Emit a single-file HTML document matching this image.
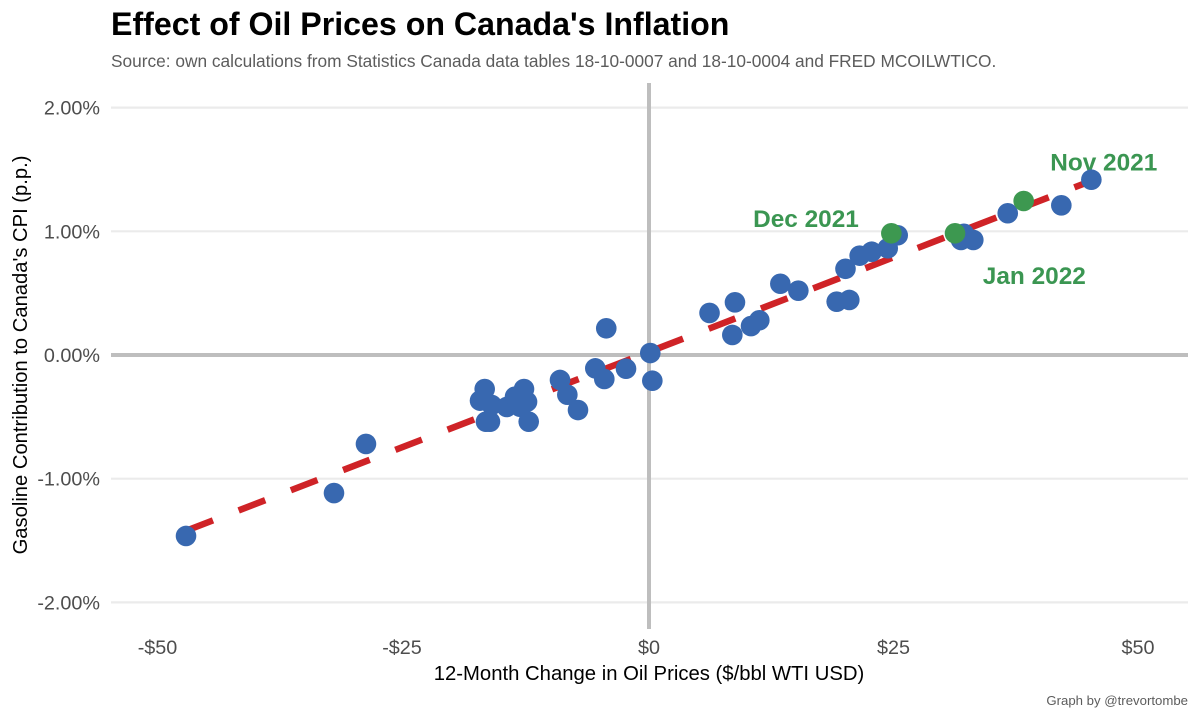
<!DOCTYPE html>
<html>
<head>
<meta charset="utf-8">
<title>Effect of Oil Prices on Canada's Inflation</title>
<style>
html,body{margin:0;padding:0;background:#fff;width:1200px;height:720px;overflow:hidden}
svg{display:block}
text{font-family:"Liberation Sans",Arial,sans-serif}
</style>
</head>
<body>
<svg id="chart" width="1200" height="720" viewBox="0 0 1200 720">
  <text x="111" y="35" font-size="32.15" font-weight="700" fill="#000">Effect of Oil Prices on Canada's Inflation</text>
  <text x="111" y="67" font-size="17.3" fill="#5c5c5c">Source: own calculations from Statistics Canada data tables 18-10-0007 and 18-10-0004 and FRED MCOILWTICO.</text>
  <text transform="translate(27,355) rotate(-90)" text-anchor="middle" font-size="20.2" fill="#000">Gasoline Contribution to Canada's CPI (p.p.)</text>
  <text x="649" y="680" text-anchor="middle" font-size="20.3" fill="#000">12-Month Change in Oil Prices ($/bbl WTI USD)</text>
  <text x="1188" y="705" text-anchor="end" font-size="13.2" fill="#5c5c5c">Graph by @trevortombe</text>
  <g id="grid"></g>
  <g id="zero"></g>
  <g id="fit"></g>
  <g id="xticks"></g>
  <g id="yticks"></g>
  <g id="labels"></g>
  <g id="points"></g>
  <g id="highlights"></g>
</svg>
<script>
const xTickValues = [-50, -25, 0, 25, 50];
const xTickLabels = ["-$50", "-$25", "$0", "$25", "$50"];
const yTickValues = [2, 1, 0, -1, -2];
const yTickLabels = ["2.00%", "1.00%", "0.00%", "-1.00%", "-2.00%"];
const oilChange = [-47.34,-32.21,-28.94,-16.8,-17.28,-16.67,-16.26,-16.08,-14.55,-13.7,-12.78,-12.47,-13.19,-12.3,-9.1,-8.35,-7.26,-5.49,-4.57,-2.35,0.13,0.34,-4.37,6.19,8.79,8.52,10.43,11.28,13.43,15.27,19.19,20.48,20.09,21.54,22.77,24.41,25.43,31.9,32.2,33.16,36.68,42.16,45.23];
const gasContribution = [-1.463,-1.116,-0.719,-0.275,-0.369,-0.539,-0.539,-0.404,-0.42,-0.337,-0.275,-0.378,-0.418,-0.539,-0.202,-0.321,-0.445,-0.108,-0.194,-0.111,0.016,-0.208,0.216,0.34,0.426,0.162,0.234,0.281,0.576,0.52,0.431,0.445,0.697,0.803,0.835,0.863,0.968,0.93,0.98,0.93,1.146,1.21,1.417];
const highlightOil = [24.78, 31.29, 38.31];
const highlightGas = [0.984, 0.984, 1.245];
const fitOil = [-47.3, 45.2];
const fitGas = [-1.42, 1.407];
const annotationText = ["Nov 2021", "Dec 2021", "Jan 2022"];
const annotationOil = [46.5, 16.05, 39.4];
const annotationGas = [1.49, 1.035, 0.575];

const NS = "http://www.w3.org/2000/svg";
const sx = v => 649 + v * 9.78;
const sy = v => 355 - v * 123.7;
const PANEL_L = 111, PANEL_R = 1188, PANEL_T = 83, PANEL_B = 629;
function mk(parent, tag, attrs, txt) {
  const el = document.createElementNS(NS, tag);
  for (const k in attrs) el.setAttribute(k, attrs[k]);
  if (txt !== undefined) el.textContent = txt;
  document.getElementById(parent).appendChild(el);
  return el;
}

yTickValues.forEach((v, i) => {
  const g = mk("grid", "line", {x1: PANEL_L, x2: PANEL_R, y1: sy(v), y2: sy(v), stroke: "#ebebeb", "stroke-width": 2.2});
  
  
  const t = mk("yticks", "text", {x: 100, y: sy(v) + 7, "text-anchor": "end", "font-size": 19.8, fill: "#4d4d4d"}, yTickLabels[i]);
  
  
});

xTickValues.forEach((v, i) => {
  const t = mk("xticks", "text", {x: sx(v) - (v < 0 ? 2.5 : 0), y: 654, "text-anchor": "middle", "font-size": 19.8, fill: "#4d4d4d"}, xTickLabels[i]);
  
  
});

const zh = mk("zero", "line", {x1: PANEL_L, x2: PANEL_R, y1: sy(0), y2: sy(0), stroke: "#bebebe", "stroke-width": 4});


const zv = mk("zero", "line", {x1: sx(0), x2: sx(0), y1: PANEL_T, y2: PANEL_B, stroke: "#bebebe", "stroke-width": 4});



const fl = mk("fit", "line", {x1: sx(fitOil[0]), y1: sy(fitGas[0]), x2: sx(fitOil[1]), y2: sy(fitGas[1]), stroke: "#cf2327", "stroke-width": 6.5, "stroke-dasharray": "28.5 27.5"});



annotationText.forEach((s, i) => {
  const t = mk("labels", "text", {x: sx(annotationOil[i]), y: sy(annotationGas[i]), "text-anchor": "middle", "font-size": 24.4, "font-weight": 700, fill: "#3b9652"}, s);
  
  
});

oilChange.forEach((v, i) => {
  const c = mk("points", "circle", {cx: sx(v), cy: sy(gasContribution[i]), r: 10.3, fill: "#3868b0"});
  
  
});

highlightOil.forEach((v, i) => {
  const c = mk("highlights", "circle", {cx: sx(v), cy: sy(highlightGas[i]), r: 10.3, fill: "#3d9850"});
  
  
});
</script>
</body>
</html>
